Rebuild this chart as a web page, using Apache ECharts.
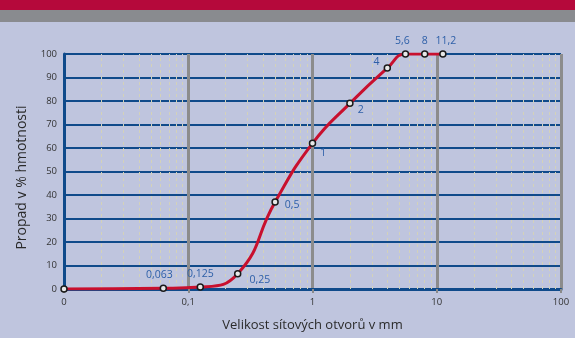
<!DOCTYPE html>
<html>
<head>
<meta charset="utf-8">
<script src="https://cdn.jsdelivr.net/npm/echarts@6/dist/echarts.min.js"></script>
<style>
  html, body { margin: 0; padding: 0; background: #bfc5de; }
  #chart { width: 575px; height: 338px; }
</style>
</head>
<body>
<div id="chart"></div>
<script>
// Sieve openings (mm); the first point sits at the left edge, labelled "0"
const sieveSizes = [0.01, 0.063, 0.125, 0.25, 0.5, 1, 2, 4, 5.6, 8, 11.2];
// Passing through each sieve (% by mass)
const passing = [0, 0.3, 0.8, 6.5, 37, 62, 79, 94, 100, 100, 100];
// Point labels (empty = no label)
const pointLabels = ['', '0,063', '0,125', '0,25', '0,5', '1', '2', '4', '5,6', '8', '11,2'];
// Minor grid positions between decades
const minorGrid = [0.02,0.03,0.04,0.05,0.06,0.07,0.08,0.09,
                   0.2,0.3,0.4,0.5,0.6,0.7,0.8,0.9,
                   2,3,4,5,6,7,8,9,
                   20,30,40,50,60,70,80,90];
const yTicks = { min: 0, max: 100, interval: 10 };

// Where each point label sits relative to its marker
const labelPlacement = {
  '0,063': { position: 'top', offset: [-4, 0] },
  '0,125': { position: 'top', offset: [0, 0] },
  '0,25':  { position: 'right', offset: [4, 6] },
  '0,5':   { position: 'right', offset: [2, 3] },
  '1':     { position: 'right', offset: [0, 10] },
  '2':     { position: 'right', offset: [0, 7] },
  '4':     { position: 'left', offset: [0, -6] },
  '5,6':   { position: 'top', offset: [-3, 0] },
  '8':     { position: 'top', offset: [0, 0] },
  '11,2':  { position: 'top', offset: [3, 0] }
};

const labelColor = '#2d5fa8';
const font = 'Open Sans';

const seriesData = sieveSizes.map((x, i) => {
  const item = { value: [x, passing[i]] };
  const text = pointLabels[i];
  if (text) {
    const p = labelPlacement[text];
    item.label = {
      show: true, formatter: text, position: p.position, offset: p.offset,
      distance: 4, color: labelColor, fontSize: 10.5, fontFamily: font
    };
  }
  return item;
});

const chart = echarts.init(document.getElementById('chart'));
chart.setOption({
  backgroundColor: '#bfc5de',
  animation: false,
  graphic: [
    { type: 'rect', shape: { x: 0, y: 0, width: 575, height: 10 }, style: { fill: '#b5093b' }, z: 0 },
    { type: 'rect', shape: { x: 0, y: 10, width: 575, height: 12 }, style: { fill: '#898b8f' }, z: 0 }
  ],
  grid: { left: 64, right: 14, top: 54, bottom: 49 },
  xAxis: {
    type: 'log', logBase: 10, min: 0.01, max: 100,
    name: 'Velikost sítových otvorů v mm',
    nameLocation: 'middle', nameGap: 30,
    nameTextStyle: { color: '#2b2b2b', fontSize: 13, fontFamily: font },
    axisLine: { show: true, onZero: false, lineStyle: { color: '#0f4a8a', width: 3 } },
    axisTick: { show: true, length: 4, lineStyle: { color: '#8a8a8a', width: 2 } },
    axisLabel: {
      color: '#333', fontSize: 9.5, fontFamily: font, margin: 8,
      formatter: v => (v <= 0.01 ? '0' : String(v).replace('.', ','))
    },
    splitLine: { show: true, lineStyle: { color: '#8c8c8c', width: 3 } }
  },
  yAxis: {
    type: 'value', min: yTicks.min, max: yTicks.max, interval: yTicks.interval,
    name: 'Propad v % hmotnosti',
    nameLocation: 'middle', nameGap: 35,
    nameTextStyle: { color: '#2b2b2b', fontSize: 14, fontFamily: font, padding: [0, 12, 0, 0] },
    axisLine: { show: true, lineStyle: { color: '#0f4a8a', width: 3 } },
    axisTick: { show: false },
    axisLabel: { color: '#333', fontSize: 9.5, fontFamily: font, margin: 7 },
    splitLine: { show: true, lineStyle: { color: '#0f4a8a', width: 2 } }
  },
  series: [
    {
      type: 'line',
      data: [],
      silent: true,
      markLine: {
        silent: true, symbol: 'none', label: { show: false },
        lineStyle: { color: '#d3d2b9', type: [3, 3], width: 1 },
        data: minorGrid.map(v => ({ xAxis: v }))
      },
      z: 1
    },
    {
      type: 'line',
      data: seriesData,
      smooth: 0.5,
      symbol: 'circle',
      symbolSize: 6,
      showAllSymbol: true,
      lineStyle: { color: '#c8102e', width: 3 },
      itemStyle: { color: '#e8e8e8', borderColor: '#1a1a1a', borderWidth: 1.5 },
      z: 5
    }
  ]
});
</script>
</body>
</html>
